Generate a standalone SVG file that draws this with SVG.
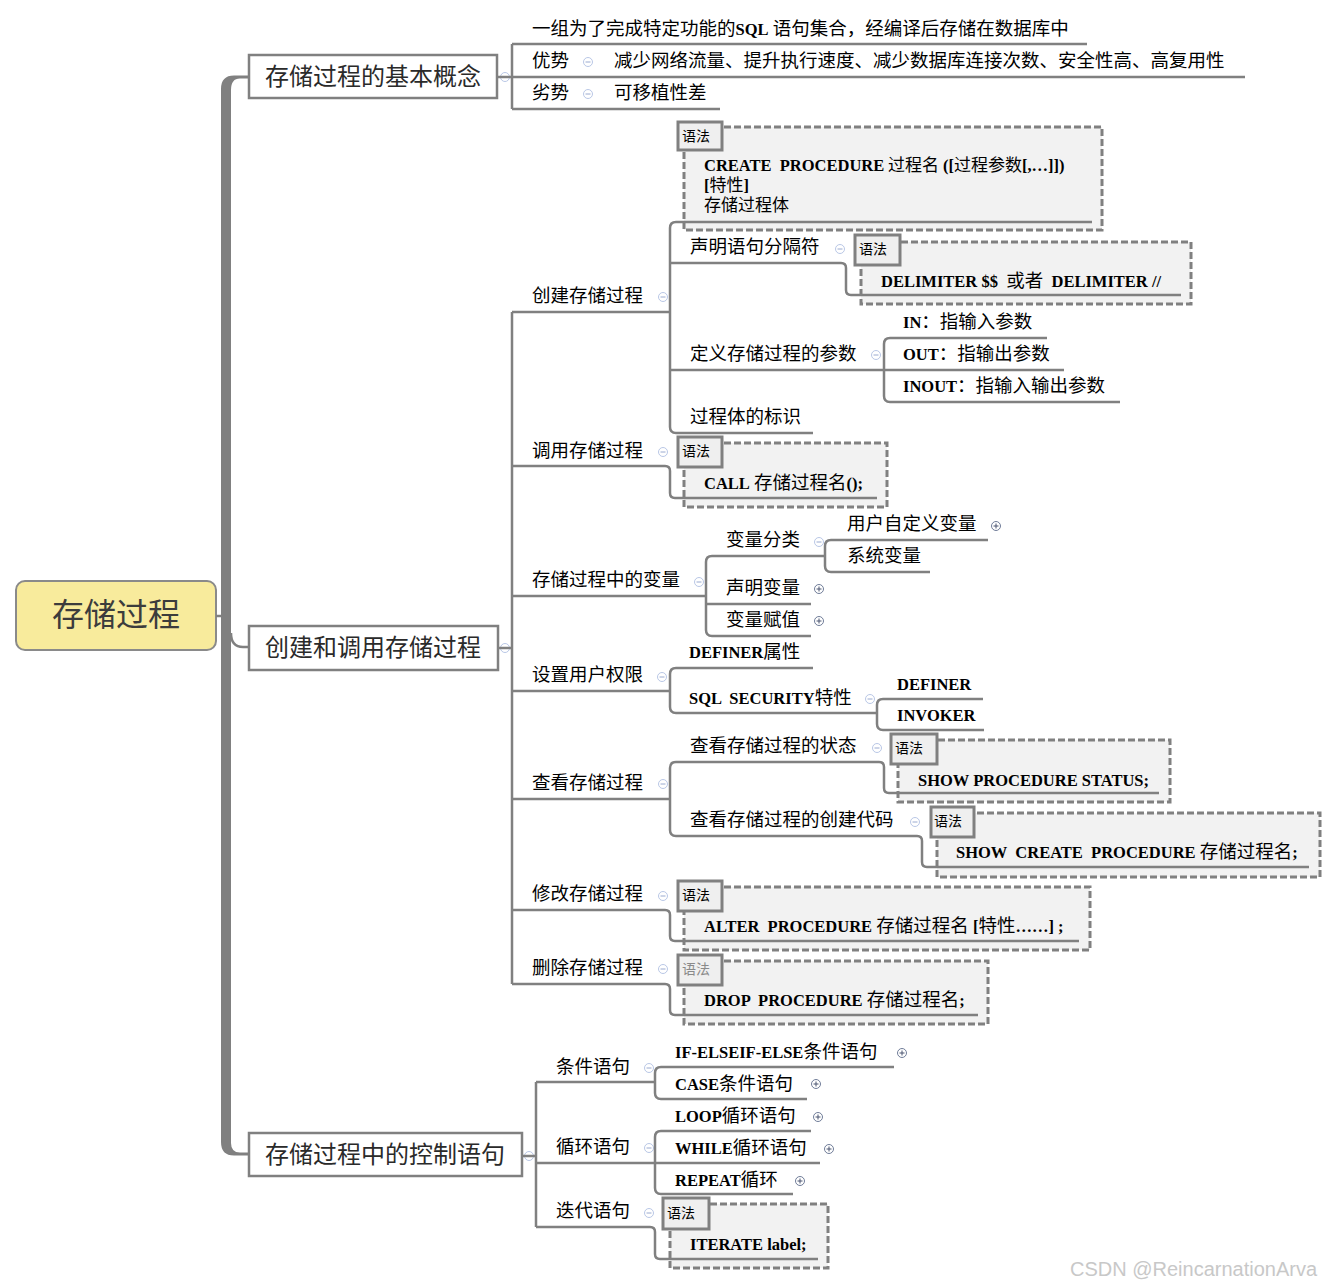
<svg xmlns="http://www.w3.org/2000/svg" xmlns:xlink="http://www.w3.org/1999/xlink" width="1337" height="1285" viewBox="0 0 1337 1285">
<style>
text{white-space:pre}
.ln{stroke:#808080;stroke-width:2.5;fill:none}
.box{fill:#fff;stroke:#808080;stroke-width:2.5}
.root{fill:#F8EB9C;stroke:#8a8a8a;stroke-width:2}
.rt{font-family:"Noto Sans CJK SC",sans-serif;font-size:32px;fill:#3c3c3c}
.n1{font-family:"Noto Sans CJK SC",sans-serif;font-size:24px;fill:#2a2a2a}
.c{font-family:"Noto Sans CJK SC",sans-serif;font-size:18.5px;fill:#000}
.b{font-family:"Liberation Serif",serif;font-weight:700;font-size:16.5px}
.code{font-family:"Noto Sans CJK SC",sans-serif;font-size:18.5px;fill:#000}
.ml{font-family:"Noto Sans CJK SC",sans-serif;font-size:17px;fill:#000}
.dash{fill:#F2F2F2;stroke:#808080;stroke-width:3;stroke-dasharray:7 3}
.lab{fill:#EFEFEF;stroke:#808080;stroke-width:3}
.lt{font-family:"Noto Sans CJK SC",sans-serif;font-size:14px;fill:#000}
.wm{font-family:"Liberation Sans",sans-serif;font-size:20px;fill:#c8c8c8}
</style>
<defs>
<g id="mi"><circle r="4.5" fill="#fff" stroke="#B9C7E6" stroke-width="1"/><line x1="-2.5" y1="0" x2="2.5" y2="0" stroke="#9AAAD0" stroke-width="1"/></g>
<g id="pl"><circle r="4.5" fill="#fff" stroke="#6F7C98" stroke-width="1"/><line x1="-2.5" y1="0" x2="2.5" y2="0" stroke="#4a5570" stroke-width="1"/><line x1="0" y1="-2.5" x2="0" y2="2.5" stroke="#4a5570" stroke-width="1"/></g>
</defs>
<rect width="1337" height="1285" fill="#fff"/>

<g id="root">
<rect class="root" x="16" y="581" width="200" height="69" rx="9"/>
<text class="rt" x="116" y="626" text-anchor="middle">存储过程</text>
</g>

<g id="n-basic">
<rect class="box" x="249" y="55" width="248" height="43"/>
<text class="n1" x="265" y="85">存储过程的基本概念</text>
<use href="#mi" x="505" y="77"/>
<text class="c" x="532" y="35">一组为了完成特定功能的<tspan class="b">SQL</tspan> 语句集合，经编译后存储在数据库中</text>
<text class="c" x="532" y="67">优势</text>
<use href="#mi" x="588" y="62"/>
<text class="c" x="614" y="67">减少网络流量、提升执行速度、减少数据库连接次数、安全性高、高复用性</text>
<text class="c" x="532" y="99">劣势</text>
<use href="#mi" x="588" y="94"/>
<text class="c" x="614" y="99">可移植性差</text>
</g>

<g id="n-create-call">
<rect class="box" x="249" y="626" width="249" height="44"/>
<text class="n1" x="265" y="656">创建和调用存储过程</text>
<use href="#mi" x="505" y="648"/>
</g>

<g id="n-create">
<text class="c" x="532" y="302">创建存储过程</text>
<use href="#mi" x="663" y="297"/>
<rect class="dash" x="684" y="127" width="418" height="103"/>
<rect class="lab" x="678" y="122" width="44" height="28"/>
<text class="lt" x="682" y="141">语法</text>
<text class="ml" x="704" y="171"><tspan class="b">CREATE  PROCEDURE</tspan> 过程名 <tspan class="b">([</tspan>过程参数<tspan class="b">[,…]])</tspan></text>
<text class="ml" x="704" y="191"><tspan class="b">[</tspan>特性<tspan class="b">]</tspan></text>
<text class="ml" x="704" y="211">存储过程体</text>
<text class="c" x="690" y="253">声明语句分隔符</text>
<use href="#mi" x="840" y="249"/>
<rect class="dash" x="861" y="242" width="330" height="62"/>
<rect class="lab" x="855" y="235" width="45" height="30"/>
<text class="lt" x="859" y="254">语法</text>
<text class="code" x="881" y="287"><tspan class="b">DELIMITER $$</tspan>  或者  <tspan class="b">DELIMITER //</tspan></text>
<text class="c" x="690" y="360">定义存储过程的参数</text>
<use href="#mi" x="876" y="355"/>
<text class="c" x="903" y="328"><tspan class="b">IN</tspan>：指输入参数</text>
<text class="c" x="903" y="360"><tspan class="b">OUT</tspan>：指输出参数</text>
<text class="c" x="903" y="392"><tspan class="b">INOUT</tspan>：指输入输出参数</text>
<text class="c" x="690" y="423">过程体的标识</text>
</g>

<g id="n-call">
<text class="c" x="532" y="457">调用存储过程</text>
<use href="#mi" x="663" y="452"/>
<rect class="dash" x="684" y="443" width="203" height="64"/>
<rect class="lab" x="678" y="437" width="44" height="30"/>
<text class="lt" x="682" y="456">语法</text>
<text class="code" x="704" y="489"><tspan class="b">CALL</tspan> 存储过程名<tspan class="b">();</tspan></text>
</g>

<g id="n-vars">
<text class="c" x="532" y="586">存储过程中的变量</text>
<use href="#mi" x="699" y="582"/>
<text class="c" x="726" y="546">变量分类</text>
<use href="#mi" x="819" y="542"/>
<text class="c" x="847" y="530">用户自定义变量</text>
<use href="#pl" x="996" y="526"/>
<text class="c" x="847" y="562">系统变量</text>
<text class="c" x="726" y="594">声明变量</text>
<use href="#pl" x="819" y="589"/>
<text class="c" x="726" y="626">变量赋值</text>
<use href="#pl" x="819" y="621"/>
</g>

<g id="n-perm">
<text class="c" x="532" y="681">设置用户权限</text>
<use href="#mi" x="662" y="677"/>
<text class="c" x="689" y="658"><tspan class="b">DEFINER</tspan>属性</text>
<text class="c" x="689" y="704"><tspan class="b">SQL  SECURITY</tspan>特性</text>
<use href="#mi" x="870" y="699"/>
<text class="c" x="897" y="690"><tspan class="b">DEFINER</tspan></text>
<text class="c" x="897" y="721"><tspan class="b">INVOKER</tspan></text>
</g>

<g id="n-show">
<text class="c" x="532" y="789">查看存储过程</text>
<use href="#mi" x="663" y="784"/>
<text class="c" x="690" y="752">查看存储过程的状态</text>
<use href="#mi" x="877" y="748"/>
<rect class="dash" x="898" y="740" width="272" height="62"/>
<rect class="lab" x="891" y="734" width="46" height="30"/>
<text class="lt" x="895" y="753">语法</text>
<text class="code" x="918" y="786"><tspan class="b">SHOW PROCEDURE STATUS;</tspan></text>
<text class="c" x="690" y="826">查看存储过程的创建代码</text>
<use href="#mi" x="915" y="822"/>
<rect class="dash" x="937" y="813" width="383" height="64"/>
<rect class="lab" x="931" y="807" width="43" height="30"/>
<text class="lt" x="934" y="826">语法</text>
<text class="code" x="956" y="858"><tspan class="b">SHOW  CREATE  PROCEDURE</tspan> 存储过程名<tspan class="b">;</tspan></text>
</g>

<g id="n-alter">
<text class="c" x="532" y="900">修改存储过程</text>
<use href="#mi" x="663" y="896"/>
<rect class="dash" x="684" y="887" width="406" height="63"/>
<rect class="lab" x="678" y="881" width="44" height="30"/>
<text class="lt" x="682" y="900">语法</text>
<text class="code" x="704" y="932"><tspan class="b">ALTER  PROCEDURE</tspan> 存储过程名 <tspan class="b">[</tspan>特性<tspan class="b">……] ;</tspan></text>
</g>

<g id="n-drop">
<text class="c" x="532" y="974">删除存储过程</text>
<use href="#mi" x="663" y="969"/>
<rect class="dash" x="684" y="961" width="304" height="63"/>
<rect class="lab" x="678" y="955" width="44" height="30"/>
<text class="lt" x="682" y="974" style="fill:#8a8a8a">语法</text>
<text class="code" x="704" y="1006"><tspan class="b">DROP  PROCEDURE</tspan> 存储过程名<tspan class="b">;</tspan></text>
</g>

<g id="n-control">
<rect class="box" x="249" y="1133" width="273" height="43"/>
<text class="n1" x="265" y="1163">存储过程中的控制语句</text>
<use href="#mi" x="529" y="1156"/>
<text class="c" x="556" y="1073">条件语句</text>
<use href="#mi" x="649" y="1068"/>
<text class="c" x="675" y="1058"><tspan class="b">IF-ELSEIF-ELSE</tspan>条件语句</text>
<use href="#pl" x="902" y="1053"/>
<text class="c" x="675" y="1090"><tspan class="b">CASE</tspan>条件语句</text>
<use href="#pl" x="816" y="1084"/>
<text class="c" x="556" y="1153">循环语句</text>
<use href="#mi" x="649" y="1148"/>
<text class="c" x="675" y="1122"><tspan class="b">LOOP</tspan>循环语句</text>
<use href="#pl" x="818" y="1117"/>
<text class="c" x="675" y="1154"><tspan class="b">WHILE</tspan>循环语句</text>
<use href="#pl" x="829" y="1149"/>
<text class="c" x="675" y="1186"><tspan class="b">REPEAT</tspan>循环</text>
<use href="#pl" x="800" y="1181"/>
<text class="c" x="556" y="1217">迭代语句</text>
<use href="#mi" x="649" y="1213"/>
<rect class="dash" x="670" y="1204" width="158" height="64"/>
<rect class="lab" x="663" y="1198" width="46" height="31"/>
<text class="lt" x="667" y="1218">语法</text>
<text class="code" x="690" y="1250"><tspan class="b">ITERATE label;</tspan></text>
</g>

<g id="connectors">
<path d="M249 75.5 H234 Q221 75.5 221 89 V1142 Q221 1155.5 234 1155.5 H249 V1152.5 H240 Q231 1152.5 231 1143 V90 Q231 78.5 240 78.5 H249 Z" fill="#808080"/>
<path class="ln" d="M216 616 H222"/>
<path class="ln" d="M231 633 Q231 647 243 647 H249"/>
<path class="ln" d="M497 77 H512 M512 44 V109 M512 44 H1087 M512 77 H1245 M512 109 H720"/>
<path class="ln" d="M498 648 H512 M512 312 V984 M512 312 H670 M512 596 H706 M512 691 H670 M512 799 H670"/>
<path class="ln" d="M676 222 Q670 222 670 228 V427 Q670 433 676 433 M676 222 H1092 M676 433 H813"/>
<path class="ln" d="M670 263 H841 Q846 263 846 268 V290 Q846 295 851 295 H1181"/>
<path class="ln" d="M670 370 H884 M890 338 Q884 338 884 344 V396 Q884 402 890 402 M890 338 H1047 M884 370 H1064 M890 402 H1120"/>
<path class="ln" d="M512 466 H665 Q670 466 670 471 V493 Q670 498 675 498 H877"/>
<path class="ln" d="M712 556 Q706 556 706 562 V630 Q706 636 712 636 M712 556 H825 M706 604 H811 M712 636 H811"/>
<path class="ln" d="M831 540 Q825 540 825 546 V566 Q825 572 831 572 M831 540 H988 M831 572 H930"/>
<path class="ln" d="M676 668 Q670 668 670 674 V707 Q670 713 676 713 M676 668 H813 M676 713 H877"/>
<path class="ln" d="M883 699 Q877 699 877 705 V724 Q877 730 883 730 M883 699 H983 M883 730 H984"/>
<path class="ln" d="M676 762 Q670 762 670 768 V830 Q670 836 676 836"/>
<path class="ln" d="M676 762 H879 Q884 762 884 767 V788 Q884 793 889 793 H1159"/>
<path class="ln" d="M676 836 H917 Q922 836 922 841 V862 Q922 867 927 867 H1309"/>
<path class="ln" d="M512 910 H665 Q670 910 670 915 V936 Q670 941 675 941 H1079"/>
<path class="ln" d="M512 984 H665 Q670 984 670 989 V1010 Q670 1015 675 1015 H978"/>
<path class="ln" d="M522 1156 H536 M536 1082 V1227 M536 1082 H655 M536 1163 H655"/>
<path class="ln" d="M661 1067 Q655 1067 655 1073 V1093 Q655 1099 661 1099 M661 1067 H894 M661 1099 H807"/>
<path class="ln" d="M661 1131 Q655 1131 655 1137 V1188 Q655 1194 661 1194 M661 1131 H811 M655 1163 H820 M661 1194 H793"/>
<path class="ln" d="M536 1227 H650 Q655 1227 655 1232 V1254 Q655 1259 660 1259 H818"/>
</g>

<text class="wm" x="1070" y="1276">CSDN @ReincarnationArva</text>
</svg>
